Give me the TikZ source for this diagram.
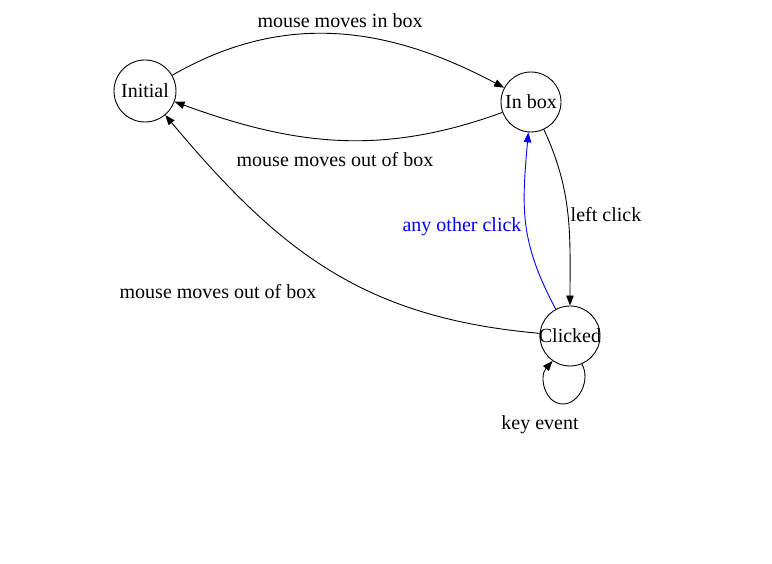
\documentclass[tikz,border=0pt]{standalone}
\usepackage{fontspec}
\setmainfont{Liberation Serif}
\usetikzlibrary{arrows.meta}
\begin{document}
\begin{tikzpicture}[x=1pt,y=1pt,
  state/.style={draw, circle, line width=0.9pt, inner sep=0pt, font=\fontsize{20}{24}\selectfont},
  lbl/.style={inner sep=0pt, font=\fontsize{20}{24}\selectfont},
  edge/.style={line width=0.9pt, -{Triangle[length=10pt,width=7.5pt]}}]
\useasboundingbox (0,0) rectangle (772,564);
\node[state, minimum size=62pt] (Initial) at (145,473) {\makebox[0pt]{Initial}};
\node[state, minimum size=60pt] (Inbox) at (531,462) {\makebox[0pt]{In box}};
\node[state, minimum size=60pt] (Clicked) at (570,228) {\makebox[0pt]{Clicked}};
\coordinate (loopbot) at (563,160);

\draw[edge] (Initial) to[out=30,in=152] (Inbox);
\draw[edge] (Inbox) to[out=200,in=-20] (Initial);
\draw[edge] (Inbox) to[out=-65,in=90] (Clicked);
\draw[edge, blue] (Clicked) to[out=118,in=-95,looseness=1.1] (Inbox);
\draw[edge] (Clicked) to[out=175,in=-50,looseness=1.05] (Initial);
\draw[edge] (Clicked.-67) .. controls +(9,-16) and +(16,0) .. (loopbot)
  .. controls +(-18,0) and +(-14,-16) .. (Clicked.-125);

\node[lbl] (l1) at (340,543) {mouse moves in box};
\node[lbl] (l2) at (335,404) {mouse moves out of box};
\node[lbl, text=blue] (l3) at (462,337) {any other click};
\node[lbl] (l4) at (606,349) {left click};
\node[lbl] (l5) at (218,272) {mouse moves out of box};
\node[lbl] (l6) at (540,139) {key event};
\end{tikzpicture}
\end{document}
